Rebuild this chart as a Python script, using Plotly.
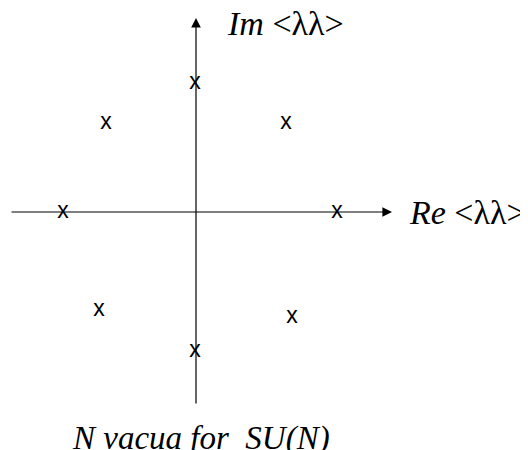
import plotly.graph_objects as go

# vacua positions in the complex <lambda lambda> plane (arbitrary units)
vacua_re = [-1, -90, 90, -133, 141, -97, 96, -1]
vacua_im = [129, 89, 89, 0, 0, -98, -105, -139]
vacua_mark = ["x"] * len(vacua_re)

# axis extents
re_axis = [-186, 196]
im_axis = [-193, 194]

re_label = "<i>Re</i> &lt;λλ&gt;"
im_label = "<i>Im</i> &lt;λλ&gt;"
caption = "<i>N vacua for &nbsp;SU(N)</i>"

fig = go.Figure()

# the vacua drawn as little x's
fig.add_trace(go.Scatter(
    x=vacua_re, y=vacua_im, mode="text", text=vacua_mark,
    textposition="middle center",
    textfont=dict(family="Liberation Sans", size=23, color="black"),
    hoverinfo="skip", showlegend=False))

# axes with arrows
fig.add_annotation(x=re_axis[1], y=0, ax=re_axis[0], ay=0,
                   xref="x", yref="y", axref="x", ayref="y",
                   showarrow=True, arrowhead=2, arrowsize=1.6, arrowwidth=1.2,
                   arrowcolor="black", text="")
fig.add_annotation(x=0, y=im_axis[1], ax=0, ay=im_axis[0],
                   xref="x", yref="y", axref="x", ayref="y",
                   showarrow=True, arrowhead=2, arrowsize=1.6, arrowwidth=1.2,
                   arrowcolor="black", text="")

label_font = dict(family="Liberation Serif", size=34, color="black")
fig.add_annotation(x=211, y=0, xref="x", yref="y", text=re_label,
                   showarrow=False, xanchor="left", yanchor="middle", font=label_font)
fig.add_annotation(x=29, y=189, xref="x", yref="y", text=im_label,
                   showarrow=False, xanchor="left", yanchor="middle", font=label_font)
fig.add_annotation(x=-126, y=-226, xref="x", yref="y", text=caption,
                   showarrow=False, xanchor="left", yanchor="middle",
                   font=dict(family="Liberation Serif", size=33, color="black"))

# page body has an 8px margin, so the figure is 8px smaller and the ranges shifted
fig.update_xaxes(range=[-188, 332], visible=False, fixedrange=True)
fig.update_yaxes(range=[-238, 204], visible=False, fixedrange=True)
fig.update_layout(
    width=520, height=442,
    margin=dict(l=0, r=0, t=0, b=0),
    plot_bgcolor="white", paper_bgcolor="white")

fig.write_html("out.html")
